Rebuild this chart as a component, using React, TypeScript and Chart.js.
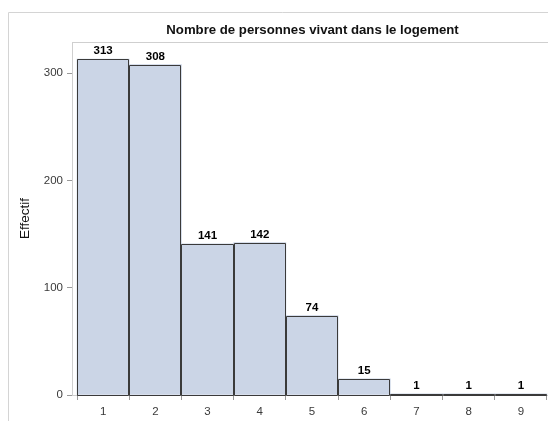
import { useEffect, useRef } from "react";
import { Chart, registerables } from "chart.js";

Chart.register(...registerables);

const categories = ["1", "2", "3", "4", "5", "6", "7", "8", "9"];
const counts = [313, 308, 141, 142, 74, 15, 1, 1, 1];
const yTickValues = [0, 100, 200, 300];
const titleText = "Nombre de personnes vivant dans le logement";
const yTitle = "Effectif";

const FONT = "'Liberation Sans', Arial, sans-serif";

export default function App() {
  const ref = useRef<HTMLCanvasElement | null>(null);

  useEffect(() => {
    if (!ref.current) return;

    const framePlugin = {
      id: "frame",
      beforeDraw(chart: any) {
        const ctx = chart.ctx;
        const ca = chart.chartArea;
        ctx.save();
        ctx.strokeStyle = "#d4d4d4";
        ctx.lineWidth = 1;
        ctx.beginPath();
        ctx.moveTo(0.5, chart.height + 5);
        ctx.lineTo(0.5, 4.5);
        ctx.lineTo(chart.width + 5, 4.5);
        ctx.stroke();
        ctx.strokeStyle = "#cfcfcf";
        ctx.strokeRect(ca.left + 0.5, ca.top + 0.5, ca.right - ca.left - 1, ca.bottom - ca.top);
        ctx.fillStyle = "#111";
        ctx.font = "bold 13.2px " + FONT;
        ctx.textAlign = "center";
        ctx.textBaseline = "alphabetic";
        ctx.fillText(titleText, (ca.left + ca.right) / 2, 26);
        ctx.restore();
      },
      afterDatasetsDraw(chart: any) {
        const ctx = chart.ctx;
        const meta = chart.getDatasetMeta(0);
        ctx.save();
        ctx.strokeStyle = "#3a3a3a";
        ctx.lineWidth = 1;
        meta.data.forEach((bar: any) => {
          const l = Math.round(bar.x - bar.width / 2) + 0.5;
          const r = Math.round(bar.x + bar.width / 2) - 0.5;
          const t = Math.round(bar.y) + 0.5;
          const b = Math.round(bar.base) + 0.5;
          ctx.beginPath();
          ctx.rect(l, Math.min(t, b - 1), r - l, Math.max(b - t, 1));
          ctx.stroke();
        });
        ctx.fillStyle = "#000";
        ctx.font = "bold 11.5px " + FONT;
        ctx.textAlign = "center";
        ctx.textBaseline = "alphabetic";
        meta.data.forEach((bar: any, i: number) => {
          ctx.fillText(String(counts[i]), bar.x, bar.y - 5);
        });
        ctx.restore();
      },
    };

    const chart = new Chart(ref.current, {
      type: "bar",
      data: {
        datasets: [
          {
            data: categories.map((c, i) => ({ x: i + 1, y: counts[i] })),
            backgroundColor: "#cbd5e6",
            borderWidth: 0,
            barPercentage: 1,
            categoryPercentage: 1,
          },
        ],
      },
      options: {
        animation: false,
        responsive: false,
        layout: { padding: { top: 34, right: 3, left: 0, bottom: 0 } },
        plugins: {
          legend: { display: false },
          title: { display: false },
          tooltip: { enabled: false },
        },
        scales: {
          x: {
            type: "linear",
            min: 0.404,
            max: 9.615,
            offset: false,
            afterBuildTicks: (s: any) => {
              s.ticks = categories.map((_, i) => ({ value: i + 1 }));
            },
            afterFit: (s: any) => {
              s.height = 26;
            },
            grid: {
              drawOnChartArea: false,
              drawTicks: true,
              tickLength: 5,
              tickColor: "#9a9a9a",
            },
            border: { display: false },
            ticks: {
              padding: 5,
              color: "#3a3a3a",
              font: { family: FONT, size: 11.5 },
              autoSkip: false,
              maxRotation: 0,
              callback: (v: any) => categories[Math.round(v) - 1] ?? "",
            },
          },
          y: {
            min: 0,
            max: 329,
            afterBuildTicks: (s: any) => {
              s.ticks = yTickValues.map((v) => ({ value: v }));
            },
            afterFit: (s: any) => {
              s.width = 64;
            },
            grid: {
              drawOnChartArea: false,
              drawTicks: true,
              tickLength: 5,
              tickColor: "#9a9a9a",
            },
            border: { display: false },
            ticks: {
              padding: 4,
              color: "#3a3a3a",
              font: { family: FONT, size: 11.5 },
            },
            title: {
              display: true,
              text: yTitle,
              color: "#111",
              font: { family: FONT, size: 13.5 },
              padding: { top: 9, bottom: 0 },
            },
          },
        },
      },
      plugins: [framePlugin],
    });

    return () => chart.destroy();
  }, []);

  return (
    <div style={{ width: 548, height: 413 }}>
      <canvas ref={ref} width={548} height={413} style={{ display: "block" }} />
    </div>
  );
}
